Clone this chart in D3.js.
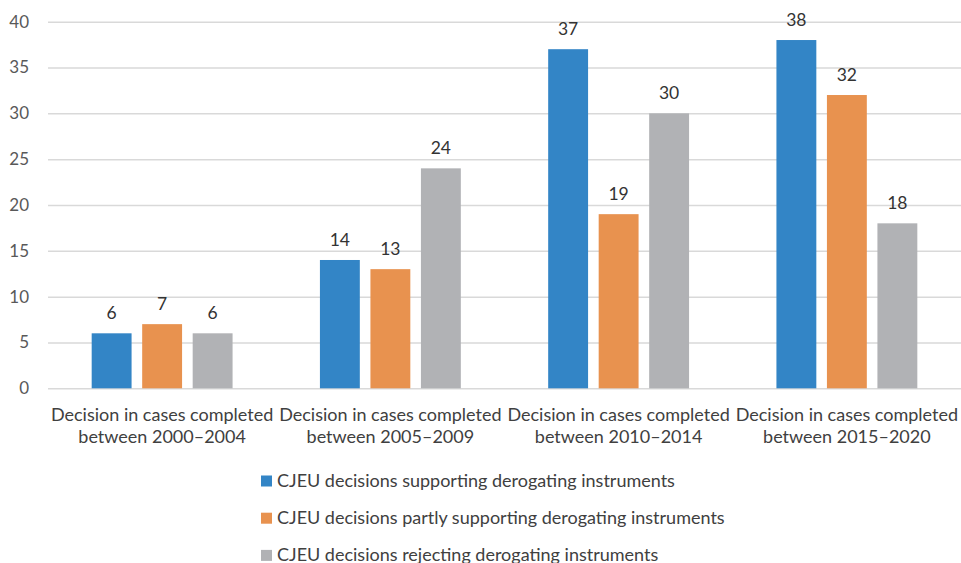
<!DOCTYPE html>
<html><head><meta charset="utf-8">
<script src="https://cdn.jsdelivr.net/npm/d3@7"></script>
<style>
html,body{margin:0;padding:0;background:#fff;}
svg{display:block;}
text{font-family:Lato,"Open Sans",sans-serif;}
</style></head>
<body>
<svg id="c" width="961" height="563"></svg>
<script>
const categories = [
  ["Decision in cases completed","between 2000\u20132004"],
  ["Decision in cases completed","between 2005\u20132009"],
  ["Decision in cases completed","between 2010\u20132014"],
  ["Decision in cases completed","between 2015\u20132020"]
];
const seriesNames = [
  "CJEU decisions supporting derogating instruments",
  "CJEU decisions partly supporting derogating instruments",
  "CJEU decisions rejecting derogating instruments"
];
const supporting = [6, 14, 37, 38];
const partly = [7, 13, 19, 32];
const rejecting = [6, 24, 30, 18];
const yTicks = [0, 5, 10, 15, 20, 25, 30, 35, 40];
const colors = ["#3385C6", "#E8924F", "#B1B2B5"];

(function(){
const series = [supporting, partly, rejecting];
const svg = d3.select("#c");
const mLeft = 48, mRight = 961, mTop = 21.7, mBottom = 388.3;

const x0 = d3.scaleBand().domain(d3.range(categories.length)).range([mLeft, mRight]).paddingInner(0).paddingOuter(0);
const x1 = d3.scaleBand().domain(d3.range(series.length)).range([0, x0.bandwidth()]).paddingInner(0.21).paddingOuter(0.865);
const y = d3.scaleLinear().domain([0, 40]).range([mBottom, mTop]);

const yAxis = d3.axisLeft(y).tickValues(yTicks).tickSize(-(mRight - mLeft)).tickPadding(19);
const ga = svg.append("g").attr("transform", `translate(${mLeft},0)`).call(yAxis);
ga.select(".domain").remove();
ga.selectAll(".tick line").attr("stroke", "#D9D9D9").attr("stroke-width", 1.5);
ga.selectAll(".tick text").attr("fill", "#595959").style("font-size", "17px").style("font-family", "Lato,'Open Sans',sans-serif");

const g = svg.append("g");
categories.forEach((c, i) => {
  series.forEach((s, j) => {
    const xp = x0(i) + x1(j);
    g.append("rect")
      .attr("x", xp).attr("y", y(s[i]))
      .attr("width", x1.bandwidth()).attr("height", y(0) - y(s[i]))
      .attr("fill", colors[j]);
    g.append("text")
      .attr("x", xp + x1.bandwidth() / 2).attr("y", y(s[i]) - 14)
      .attr("text-anchor", "middle").attr("fill", "#333")
      .style("font-size", "17.5px").text(s[i]);
  });
  const t = svg.append("text").attr("text-anchor", "middle").attr("fill", "#404040").style("font-size", "18px");
  c.forEach((line, k) => {
    t.append("tspan").attr("x", x0(i) + x0.bandwidth() / 2).attr("y", 420.5 + k * 22.5).text(line);
  });
});

seriesNames.forEach((n, j) => {
  const ly = 481 + j * 37.2;
  svg.append("rect").attr("x", 261).attr("y", ly - 5.5).attr("width", 11).attr("height", 11).attr("fill", colors[j]);
  svg.append("text").attr("x", 277).attr("y", ly + 6).attr("fill", "#404040").style("font-size", "18px").text(n);
});
})();
</script>
</body></html>
